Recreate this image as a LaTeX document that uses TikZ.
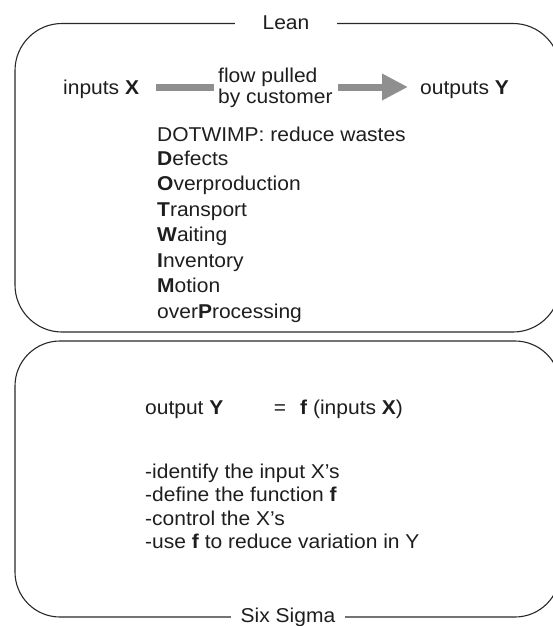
\documentclass[tikz,border=0pt]{standalone}
\usepackage{fontspec}
\setmainfont{Liberation Sans}[FakeStretch=1.05]
\usetikzlibrary{arrows.meta}
\definecolor{flowgray}{RGB}{143,143,143}
\definecolor{framegray}{RGB}{40,40,40}
\definecolor{inkgray}{RGB}{30,30,30}
\tikzset{
  frame/.style={draw=framegray, line width=1.1pt},
  title/.style={fill=white, inner xsep=0pt, inner ysep=2pt, text=inkgray, font=\fontsize{20}{24}\selectfont},
  txt/.style={inner sep=0pt, text=inkgray, font=\fontsize{20}{24}\selectfont, align=left},
  flowbar/.style={draw=flowgray, line width=7pt},
}
\begin{document}
\begin{tikzpicture}[x=1pt, y=-1pt]
\useasboundingbox (0,0) rectangle (553,626);
% the two rounded panels, running off the right edge
\begin{scope}
  \clip (0,0) rectangle (553,626);
  \draw[frame, rounded corners=47pt] (15,23.5) rectangle (560,332);
  \draw[frame, rounded corners=45pt] (15,341) rectangle (560,617);
\end{scope}
\node[title, minimum width=102pt, anchor=base] (lean) at (286,30) {Lean};
\node[title, minimum width=114pt] (sixsigma) at (288,617) {Six Sigma};

% Lean: flow from inputs to outputs
\node[txt, anchor=base west] (in) at (63,94) {inputs \textbf{X}};
\node[txt, anchor=base west] (flow1) at (218,82) {flow pulled};
\node[txt, anchor=base west] (flow2) at (218,103.5) {by customer};
\node[txt, anchor=base west] (out) at (420,94) {outputs \textbf{Y}};
\coordinate (b1s) at (156,87);
\coordinate (b1e) at (214,87);
\coordinate (b2s) at (338,87);
\coordinate (b2e) at (408,87);
\draw[flowbar] (b1s) -- (b1e);
\draw[flowbar, -{Triangle[length=26pt, width=25pt]}] (b2s) -- (b2e);

% Lean: the seven wastes
\node[txt, anchor=base west] (w0) at (157,141.5) {DOTWIMP: reduce wastes};
\node[txt, anchor=base west] (w1) at (157,165) {\textbf{D}efects};
\node[txt, anchor=base west] (w2) at (157,190.5) {\textbf{O}verproduction};
\node[txt, anchor=base west] (w3) at (157,216) {\textbf{T}ransport};
\node[txt, anchor=base west] (w4) at (157,241.5) {\textbf{W}aiting};
\node[txt, anchor=base west] (w5) at (157,267) {\textbf{I}nventory};
\node[txt, anchor=base west] (w6) at (157,292.5) {\textbf{M}otion};
\node[txt, anchor=base west] (w7) at (157,318) {over\textbf{P}rocessing};

% Six Sigma: the transfer function
\node[txt, anchor=base west] (outy) at (145,414) {output \textbf{Y}};
\node[txt, anchor=base] (eq) at (280,414) {=};
\node[txt, anchor=base west] (fx) at (300,414) {\textbf{f} (inputs \textbf{X})};
\node[txt, anchor=base west] (s1) at (145,478) {-identify the input X’s};
\node[txt, anchor=base west] (s2) at (145,501.5) {-define the function \textbf{f}};
\node[txt, anchor=base west] (s3) at (145,525) {-control the X’s};
\node[txt, anchor=base west] (s4) at (145,548.5) {-use \textbf{f} to reduce variation in Y};
\end{tikzpicture}
\end{document}
